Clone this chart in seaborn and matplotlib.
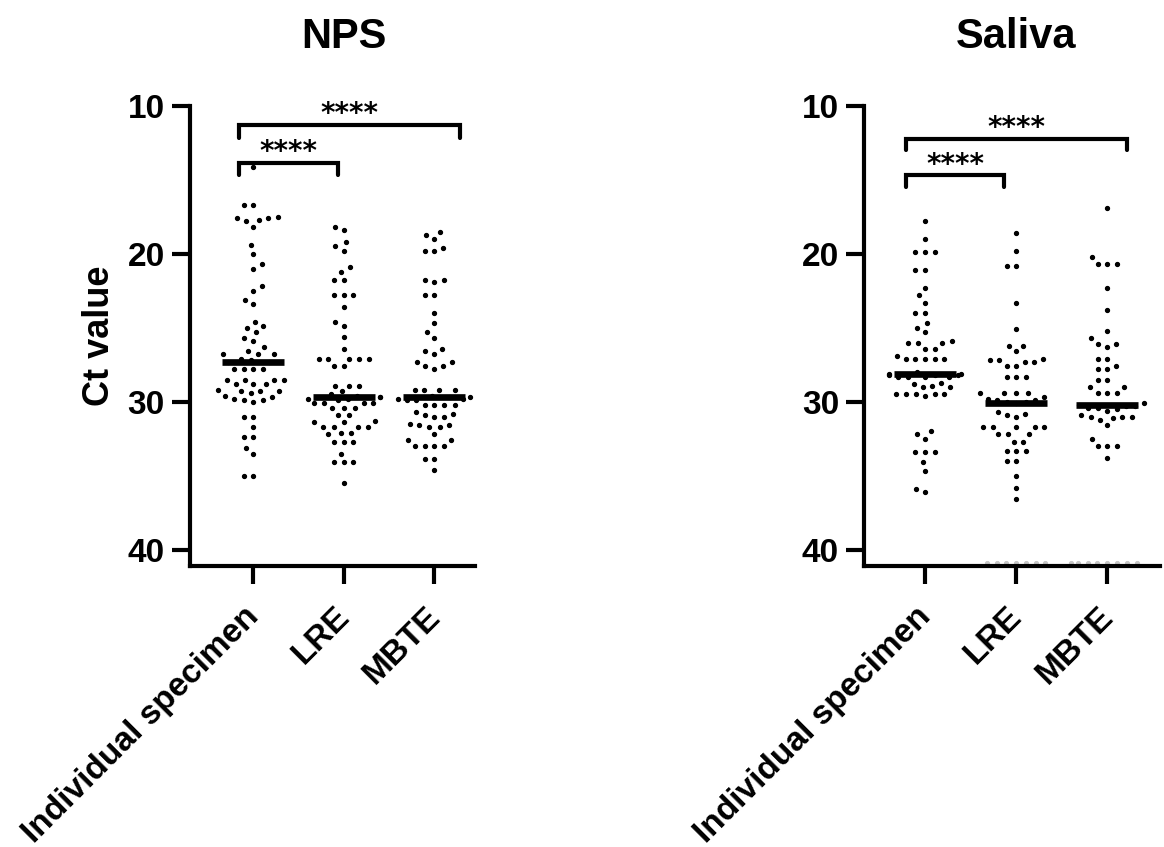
import numpy as np
import pandas as pd
import seaborn as sns
import matplotlib.pyplot as plt
from matplotlib.transforms import ScaledTranslation

groups = ["Individual specimen", "LRE", "MBTE"]

# Ct values (detected samples)
nps_individual = [14.1, 16.7, 16.7, 17.5, 17.6, 17.6, 17.7, 17.8,
                  18.2, 19.4, 20.0, 20.7, 21.0,
                  22.2, 22.5, 23.1, 23.4, 24.6, 24.9, 25.0, 25.3, 25.7, 25.9, 26.3, 26.6,
                  26.8, 26.8, 26.8, 27.1, 27.2, 27.3, 27.3,
                  27.8, 27.8, 27.8, 27.8, 28.5, 28.5, 28.5, 28.5, 28.8, 28.8, 28.8,
                  29.2, 29.3, 29.3, 29.3, 29.4, 29.6, 29.7, 29.8, 29.9, 29.9, 30.0,
                  31.0, 31.0, 31.7, 32.4, 32.4, 33.1, 33.5, 35.0, 35.0]
nps_lre = [18.2, 18.4, 19.2, 19.5, 19.8, 20.9, 21.2, 21.8, 21.8,
           22.8, 22.8, 22.8, 23.6, 24.6, 24.9, 25.6, 26.4,
           27.1, 27.1, 27.1, 27.1, 27.1, 27.6, 27.6,
           28.9, 28.9, 28.9, 29.3,
           29.5, 29.6, 29.7, 29.7, 29.8, 29.8, 29.9,
           30.1, 30.1, 30.1, 30.1, 30.4, 30.4, 30.4, 30.9, 30.9,
           31.3, 31.4, 31.4, 31.7, 31.7, 31.7, 31.7, 32.1, 32.1, 32.2,
           32.7, 32.7, 32.7, 33.5, 34.1, 34.1, 34.1, 35.5]
nps_mbte = [18.5, 18.7, 19.0, 19.6, 19.8, 19.8, 21.8, 21.8, 21.9,
            22.8, 22.8, 24.0, 24.7, 25.3, 25.7, 26.4, 26.6, 26.8,
            27.3, 27.3, 27.6, 27.6, 27.8, 29.2, 29.2, 29.2, 29.2,
            29.6, 29.7, 29.7, 29.8, 29.8, 29.9, 29.9,
            30.2, 30.2, 30.2, 30.2, 30.7, 30.8, 30.9, 31.0, 31.0,
            31.5, 31.6, 31.6, 31.7, 31.7, 32.2, 32.6, 32.6,
            33.0, 33.0, 33.0, 33.0, 33.9, 33.9, 34.6]

saliva_individual = [17.8, 19.0, 19.9, 19.9, 19.9, 21.1, 21.1, 22.3,
                     22.8, 23.3, 24.0, 24.0, 24.7, 25.0, 25.3, 25.9, 26.0, 26.0, 26.0,
                     26.4, 26.4, 26.9, 27.1, 27.1, 27.1, 27.1, 27.1,
                     28.0, 28.1, 28.1, 28.2, 28.2, 28.2, 28.3, 28.3, 28.3, 28.3,
                     28.7, 28.8, 28.9, 29.0, 29.0, 29.5, 29.5, 29.5, 29.5, 29.5, 29.6,
                     32.0, 32.2, 32.5, 33.4, 33.4, 33.4, 34.1, 34.7, 35.9, 36.1]
saliva_lre = [18.6, 19.8, 20.8, 20.8, 23.3, 25.1, 26.2, 26.2, 26.6,
              27.1, 27.2, 27.2, 27.3, 27.3, 27.6, 27.6, 28.3, 28.3, 28.3,
              29.4, 29.4, 29.4, 29.4, 29.7, 29.8, 29.9, 29.9, 30.0, 30.0, 30.1,
              30.7, 30.8, 30.9, 31.0, 31.7, 31.7, 31.7, 31.7, 31.7,
              32.2, 32.2, 32.2, 32.7, 32.7, 33.3, 33.3, 33.3,
              34.0, 34.0, 35.0, 35.8, 36.6]
saliva_mbte = [16.9, 20.2, 20.7, 20.7, 20.7, 22.3, 23.8, 25.2, 25.7, 26.1, 26.1, 26.3,
               27.1, 27.1, 27.6, 27.8, 27.8, 28.5, 28.5, 29.0, 29.0, 29.4, 29.4, 29.4,
               30.1, 30.2, 30.3, 30.3, 30.4, 30.4, 30.5, 30.6,
               30.9, 31.0, 31.0, 31.0, 31.1, 31.2, 31.6, 32.5, 33.0, 33.0, 33.0, 33.8]

# not detected samples, shown on the axis floor
nps_nd = [0, 0, 0]
saliva_nd = [0, 7, 8]
nd_value = 40.9

yticks = [10, 20, 30, 40]
comparisons = [(0, 1, "****"), (0, 2, "****")]


def make_frame(values, nd_counts):
    rows = []
    for g, vals, n in zip(groups, values, nd_counts):
        rows += [(g, v, True) for v in vals]
        rows += [(g, nd_value, False)] * n
    return pd.DataFrame(rows, columns=["group", "ct", "detected"])


sns.set_style("ticks")
plt.rcParams["font.family"] = ["Liberation Sans", "DejaVu Sans"]
plt.rcParams["font.weight"] = "bold"
plt.rcParams["axes.labelweight"] = "bold"
plt.rcParams["axes.titleweight"] = "bold"
for key in ["text.color", "axes.labelcolor", "xtick.color", "ytick.color", "axes.edgecolor"]:
    plt.rcParams[key] = "black"

fig = plt.figure(figsize=(11.64, 8.47), dpi=100)

panels = [
    dict(title="NPS", df=make_frame([nps_individual, nps_lre, nps_mbte], nps_nd),
         rect=[0.1632, 0.3318, 0.2448, 0.5431], xlim=(-0.7, 2.45), ylabel="Ct value",
         brackets=[(13.85, 14.65, -0.155, 0.94), (11.3, 12.15, -0.155, 2.29)]),
    dict(title="Saliva", df=make_frame([saliva_individual, saliva_lre, saliva_mbte], saliva_nd),
         rect=[0.7423, 0.3318, 0.2543, 0.5431], xlim=(-0.67, 2.58), ylabel="",
         brackets=[(14.7, 15.5, -0.21, 0.87), (12.2, 13.0, -0.21, 2.22)]),
]

for p in panels:
    ax = fig.add_axes(p["rect"])
    df = p["df"]
    det = df[df["detected"]]
    nd = df[~df["detected"]]
    sns.swarmplot(data=det, x="group", y="ct", order=groups, color="black",
                  marker=".", size=5.6, linewidth=1.0, edgecolor="black", ax=ax, warn_thresh=1)
    if len(nd):
        sns.swarmplot(data=nd, x="group", y="ct", order=groups, color="#c6c6c6",
                      marker=".", size=6, linewidth=0.7, edgecolor="#c6c6c6", ax=ax,
                      zorder=2, warn_thresh=1)
    sns.pointplot(data=df, x="group", y="ct", order=groups, estimator="median",
                  errorbar=None, color="black", marker="_", markersize=44,
                  markeredgewidth=4.8, linestyle="none", ax=ax, zorder=5)

    ax.set_xlim(*p["xlim"])
    ax.set_ylim(41.1, 10)
    ax.set_yticks(yticks)
    ax.set_xticks(range(len(groups)))
    ax.set_xticklabels(groups, rotation=45, ha="right", rotation_mode="anchor")
    ax.tick_params(axis="both", length=13, width=3, labelsize=24, pad=5)
    ax.tick_params(axis="x", pad=8)
    shift = ScaledTranslation(-0.10, -0.06, fig.dpi_scale_trans)
    for lab in ax.get_xticklabels():
        lab.set_transform(lab.get_transform() + shift)
    for s in ["left", "bottom"]:
        ax.spines[s].set_linewidth(3)
    sns.despine(ax=ax)
    ax.set_xlabel("")
    ax.set_ylabel(p["ylabel"], fontsize=26, labelpad=8)

    for (i, j, label), (y_line, y_tip, x0, x1) in zip(comparisons, p["brackets"]):
        ax.plot([x0, x0, x1, x1], [y_tip, y_line, y_line, y_tip], color="black",
                lw=3, solid_joinstyle="miter", clip_on=False)
        ax.text((x0 + x1) / 2, y_line - 0.2, label, ha="center", va="baseline",
                fontsize=20, family=["DejaVu Sans"], fontweight="bold")

    xl = ax.get_xlim()
    ax.set_title(p["title"], fontsize=30, pad=42)
    ax.title.set_x((1 - xl[0]) / (xl[1] - xl[0]))

fig.savefig("out.png", dpi=100)
